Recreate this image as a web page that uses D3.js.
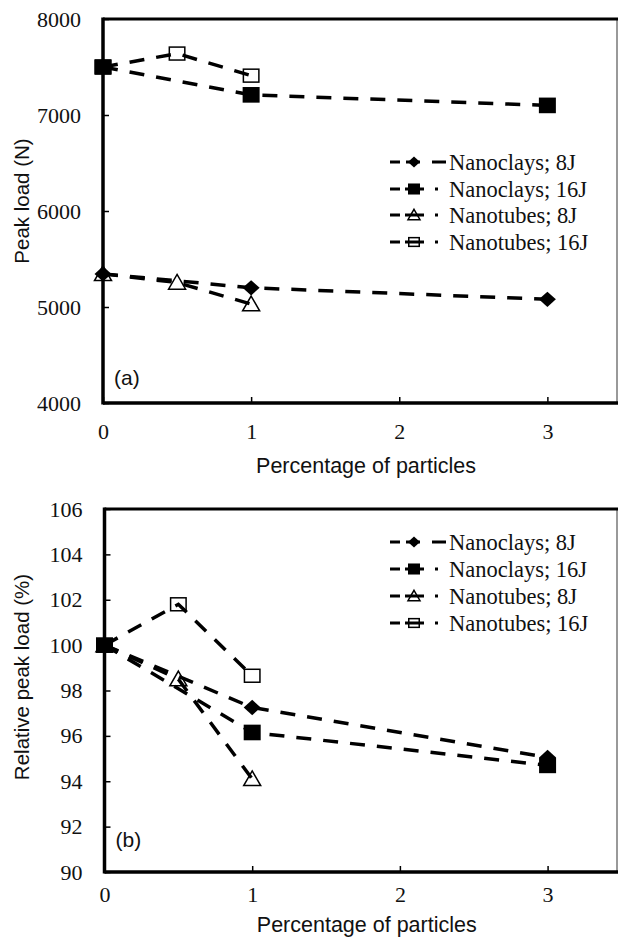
<!DOCTYPE html>
<html>
<head>
<meta charset="utf-8">
<script src="https://cdn.jsdelivr.net/npm/d3@7"></script>
<style>
  body { margin: 0; background: #fff; }
  svg { display: block; }
</style>
</head>
<body>
<svg id="fig" width="619" height="937"></svg>
<script>
// ---- data ----
const seriesNames = ["Nanoclays; 8J", "Nanoclays; 16J", "Nanotubes; 8J", "Nanotubes; 16J"];
const xTicks = [0, 1, 2, 3];

// Peak load (N) vs. particle percentage
const clay8Load  = [[0, 5345], [1, 5200], [3, 5080]];
const clay16Load = [[0, 7500], [1, 7210], [3, 7100]];
const tube8Load  = [[0, 5345], [0.5, 5255], [1, 5030]];
const tube16Load = [[0, 7500], [0.5, 7640], [1, 7410]];
const loadTicks  = [4000, 5000, 6000, 7000, 8000];

// Relative peak load (%) vs. particle percentage
const clay8Rel  = [[0, 100], [1, 97.25], [3, 95.05]];
const clay16Rel = [[0, 100], [1, 96.15], [3, 94.7]];
const tube8Rel  = [[0, 100], [0.5, 98.5], [1, 94.1]];
const tube16Rel = [[0, 100], [0.5, 101.8], [1, 98.65]];
const relTicks  = [90, 92, 94, 96, 98, 100, 102, 104, 106];

// ---- styling ----
const SERIF = '"Liberation Serif"';
const SANS  = '"Liberation Sans"';
const markerKinds = ["diamond", "squareFilled", "triangle", "squareOpen"];
const DASH = "15,12";

const svg = d3.select("#fig");

function drawMarker(g, kind, cx, cy, s) {
  const h = s / 2;
  if (kind === "diamond") {
    g.append("path")
      .attr("d", `M${cx},${cy - h * 0.9} L${cx + h},${cy} L${cx},${cy + h * 0.9} L${cx - h},${cy} Z`)
      .attr("fill", "#000");
  } else if (kind === "squareFilled") {
    g.append("rect").attr("x", cx - h).attr("y", cy - h * 0.92)
      .attr("width", s).attr("height", s * 0.92).attr("fill", "#000");
  } else if (kind === "squareOpen") {
    g.append("rect").attr("x", cx - h + 0.75).attr("y", cy - h * 0.85 + 0.75)
      .attr("width", s - 1.5).attr("height", s * 0.85 - 1.5)
      .attr("fill", "none").attr("stroke", "#000").attr("stroke-width", 1.5);
  } else if (kind === "triangle") {
    g.append("path")
      .attr("d", `M${cx},${cy - h * 0.95} L${cx + h},${cy + h * 0.78} L${cx - h},${cy + h * 0.78} Z`)
      .attr("fill", "none").attr("stroke", "#000").attr("stroke-width", 1.5);
  }
}

function styleTicks(axisG) {
  axisG.attr("font-family", null).attr("font-size", null);
  axisG.select(".domain").remove();
  axisG.selectAll(".tick line").attr("stroke-width", 1.5);
  axisG.selectAll("text")
    .style("font-family", SERIF).style("font-size", "22px").attr("fill", "#111");
}

function drawPanel(cfg) {
  const { left, right, top, bottom, yDomain, yTicks, series, yTitle, yTitleY,
          xLabelPad, xTitleY, tag, tagY, legendY } = cfg;
  const x = d3.scaleLinear().domain([0, 3.47]).range([left, right]);
  const y = d3.scaleLinear().domain(yDomain).range([bottom, top]);
  const g = svg.append("g");

  // frame: thick left/bottom/top, thin grey right edge
  g.append("line").attr("x1", right).attr("x2", right).attr("y1", top).attr("y2", bottom)
    .attr("stroke", "#777").attr("stroke-width", 1.5);
  g.append("line").attr("x1", left).attr("x2", right + 1).attr("y1", top).attr("y2", top)
    .attr("stroke", "#000").attr("stroke-width", 3);

  // y axis (ticks inward)
  const ya = g.append("g").attr("transform", `translate(${left},0)`)
    .call(d3.axisLeft(y).tickValues(yTicks).tickFormat(d3.format("d"))
      .tickSizeInner(-6).tickSizeOuter(0).tickPadding(22));
  styleTicks(ya);

  // x axis (ticks inward)
  const xa = g.append("g").attr("transform", `translate(0,${bottom})`)
    .call(d3.axisBottom(x).tickValues(xTicks).tickFormat(d3.format("d"))
      .tickSizeInner(-6).tickSizeOuter(0).tickPadding(xLabelPad));
  styleTicks(xa);

  g.append("line").attr("x1", left).attr("x2", left).attr("y1", top - 1.5).attr("y2", bottom + 1.5)
    .attr("stroke", "#000").attr("stroke-width", 3.5);
  g.append("line").attr("x1", left).attr("x2", right + 1).attr("y1", bottom).attr("y2", bottom)
    .attr("stroke", "#000").attr("stroke-width", 3.5);

  // titles
  g.append("text")
    .attr("x", (left + right) / 2 + 6).attr("y", xTitleY)
    .attr("text-anchor", "middle").attr("dominant-baseline", "central")
    .style("font-family", SANS).style("font-size", "21.5px").attr("fill", "#111")
    .text("Percentage of particles");
  g.append("text")
    .attr("transform", `translate(21,${yTitleY}) rotate(-90)`)
    .attr("text-anchor", "middle").attr("dominant-baseline", "central")
    .style("font-family", SANS).style("font-size", "20.5px").attr("fill", "#111")
    .text(yTitle);
  g.append("text")
    .attr("x", left + 11).attr("y", tagY)
    .attr("dominant-baseline", "central")
    .style("font-family", SANS).style("font-size", "21px").attr("fill", "#111")
    .text(tag);

  // series: dashed lines, then markers
  const line = d3.line().x(d => x(d[0])).y(d => y(d[1]));
  series.forEach(s => {
    g.append("path").datum(s).attr("d", line)
      .attr("fill", "none").attr("stroke", "#000").attr("stroke-width", 3.5)
      .attr("stroke-dasharray", DASH);
  });
  series.forEach((s, i) => {
    s.forEach(d => drawMarker(g, markerKinds[i], x(d[0]), y(d[1]), 17));
  });

  // legend
  const legendDash = ["10,6,14,12,14", "10,5,19,11,3,30", "10,5,19,11,3,30", "10,5,19,11,3,30"];
  seriesNames.forEach((name, i) => {
    const cy = legendY[i];
    const lg = g.append("g");
    lg.append("line").attr("x1", 390).attr("x2", 446).attr("y1", cy).attr("y2", cy)
      .attr("stroke", "#000").attr("stroke-width", 3).attr("stroke-dasharray", legendDash[i]);
    drawMarker(lg, markerKinds[i], 414, cy, 12);
    lg.append("text")
      .attr("x", 449).attr("y", cy).attr("dominant-baseline", "central")
      .style("font-family", SERIF).style("font-size", "22.5px").attr("fill", "#111")
      .text(name);
  });
}

drawPanel({
  left: 103, right: 617, top: 19, bottom: 403,
  yDomain: [4000, 8000], yTicks: loadTicks,
  series: [clay8Load, clay16Load, tube8Load, tube16Load],
  yTitle: "Peak load (N)", yTitleY: 201,
  xLabelPad: 20, xTitleY: 466,
  tag: "(a)", tagY: 377,
  legendY: [162, 189, 215, 242]
});

drawPanel({
  left: 104.5, right: 617, top: 509, bottom: 872,
  yDomain: [90, 106], yTicks: relTicks,
  series: [clay8Rel, clay16Rel, tube8Rel, tube16Rel],
  yTitle: "Relative peak load (%)", yTitleY: 677,
  xLabelPad: 14, xTitleY: 925,
  tag: "(b)", tagY: 839,
  legendY: [542, 569, 596, 623]
});
</script>
</body>
</html>
